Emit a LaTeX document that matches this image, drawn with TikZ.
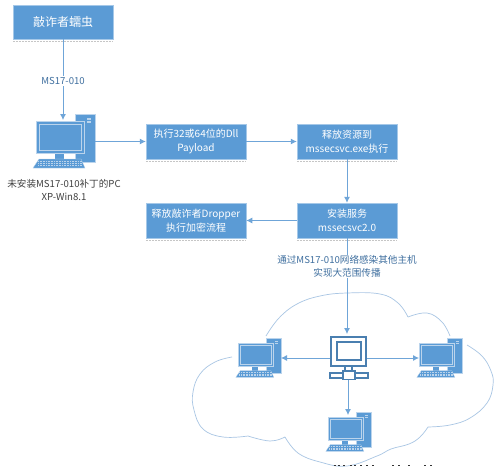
\documentclass[tikz,border=0pt]{standalone}
\usepackage{fontspec}
\setmainfont{Noto Sans CJK SC}
\usetikzlibrary{arrows.meta}
\definecolor{bx}{HTML}{5B9BD5}
\definecolor{bxd}{HTML}{4A7FB0}
\definecolor{ln}{HTML}{6FA5D8}
\definecolor{cl}{HTML}{A9C6E4}
\definecolor{tx}{HTML}{3F6F9F}
\definecolor{pcl}{HTML}{BBD4EC}
\tikzset{
 box/.style={draw=bx!55,line width=.5pt,fill=bx,text=white,inner sep=0pt,align=center,minimum width=100pt,minimum height=35pt,font=\fontsize{10}{13.5}\selectfont},
 conn/.style={draw=ln,line width=.8pt,-{Latex[length=6pt,width=6pt]}},
 lab/.style={fill=white,inner sep=1pt,align=center,text=tx,font=\fontsize{9.6}{13}\selectfont},
 cloudline/.style={cl,line width=.7pt},
 anchorpt/.style={inner sep=0pt,minimum size=0pt},
 shadowdots/.style={densely dotted,gray!45,line width=.5pt},
}
% origin = top-left of the monitor; #3 = scale
\newcommand{\mypc}[3]{%
 \begin{scope}[shift={(#1,#2)},x=#3pt,y=-#3pt]
  \fill[bx,draw=pcl,line width=.4pt] (39,-7) rectangle (59,41);
  \fill[pcl] (51,-3) rectangle (55,-1);
  \fill[pcl] (51,0) rectangle (55,2);
  \fill[bx] (19,32) rectangle (28,38);
  \fill[bx,draw=pcl,line width=.5pt] (0,0) rectangle (48,32);
  \draw[pcl,line width=.5pt] (3,3) rectangle (45,29);
  \fill[bx,draw=pcl,line width=.3pt] (3,38) -- (45,38) -- (49,47) -- (-3,47) -- cycle;
  \foreach \yy in {40.5,42.5,44.5}{\draw[pcl,line width=.4pt,dash pattern=on 1pt off .6pt] (2,\yy) -- (46,\yy);}
 \end{scope}}
\begin{document}
\begin{tikzpicture}[x=1pt,y=-1pt]
\useasboundingbox (0,0) rectangle (498,466);
\fill[white] (0,0) rectangle (498,466);

% cloud
\draw[cloudline] plot[smooth,tension=.7] coordinates {(266,336) (279,318) (297,304) (320,296) (347,293) (380,294) (398,303) (408,317)};
\draw[cloudline] plot[smooth,tension=.7] coordinates {(408,317) (427,313) (442,322) (450,336)};
\draw[cloudline] plot[smooth,tension=.7] coordinates {(467,345) (482,356) (491,371) (493,385) (487,403) (470,418) (450,425) (428,427)};
\draw[cloudline] plot[smooth,tension=.7] coordinates {(428,427) (420,437) (409,444) (391,449) (377,456) (347,466) (320,462) (298,453) (285,437)};
\draw[cloudline] plot[smooth,tension=.7] coordinates {(285,437) (270,441) (248,436)};
\draw[cloudline] plot[smooth,tension=.7] coordinates {(248,436) (223,437) (203,429) (194,410) (193,392) (200,374) (215,362) (232,357)};

% boxes
\node[box,minimum height=34pt,font=\fontsize{12}{14}\selectfont] (worm) at (63,22) {敲诈者蠕虫};
\node[box] (dll)  at (196,141.5) {执行32或64位的Dll\\Payload};
\node[box] (res)  at (347,141.5) {释放资源到\\mssecsvc.exe执行};
\node[box] (svc)  at (347,220.5) {安装服务\\mssecsvc2.0};
\node[box] (drop) at (196,220.5) {释放敲诈者Dropper\\执行加密流程};

\foreach \n in {worm,dll,res,svc,drop}{
  \draw[shadowdots] ([yshift=-1.5pt]\n.south west) -- ([yshift=-1.5pt]\n.south east);}

% computers
\mypc{36}{121}{1}
\mypc{238}{343}{.73}
\mypc{419}{343}{.73}
\mypc{328}{417}{.73}
\coordinate (pcmain) at (63,120);
\coordinate (pcout) at (95,141.5);
\coordinate (pcl1) at (281,358);
\coordinate (pcr1) at (419,358);
\coordinate (pcb1) at (348,415);

% network icon
\begin{scope}[bxd,line width=1.9pt]
  \draw (331,337) rectangle (366,366);
  \draw[line width=1.1pt] (337,342) rectangle (361,360);
  \draw (345,366) -- (345,371) (352,366) -- (352,371);
  \draw (330,373) rectangle (368,378);
  \draw[fill=white] (343,371) rectangle (355,379.5);
\end{scope}
\node[anchorpt,minimum width=38pt,minimum height=44pt] (net) at (348.5,358) {};
\coordinate (netl) at (330,358);
\coordinate (netr) at (367,358);
\coordinate (netb) at (348,380);
\coordinate (nett) at (347,334);

% connectors
\draw[conn] (worm.south) -- (pcmain);
\draw[conn] (pcout) -- (dll.west);
\draw[conn] (dll.east) -- (res.west);
\draw[conn] (res.south) -- (svc.north);
\draw[conn] (svc.west) -- (drop.east);
\draw[conn] (svc.south) -- (nett);
\draw[conn] (netl) -- (pcl1);
\draw[conn] (netr) -- (pcr1);
\draw[conn] (netb) -- (pcb1);

% labels
\node[lab] (ms) at (63,81) {MS17-010};
\node[lab] (spread) at (347,266.5) {通过MS17-010网络感染其他主机\\实现大范围传播};
\node[align=center,inner sep=0pt,text=black!75,font=\fontsize{9.6}{13}\selectfont] (pctxt) at (64,190.5) {未安装MS17-010补丁的PC\\XP-Win8.1};

% clipped remains of a line of text at the bottom edge
\foreach \xa in {334,338,343,350,354,360,366,372,392,398,408,424,430}{
  \fill[black!80] (\xa,464.5) rectangle +(1.8,1.5);}
\end{tikzpicture}
\end{document}
